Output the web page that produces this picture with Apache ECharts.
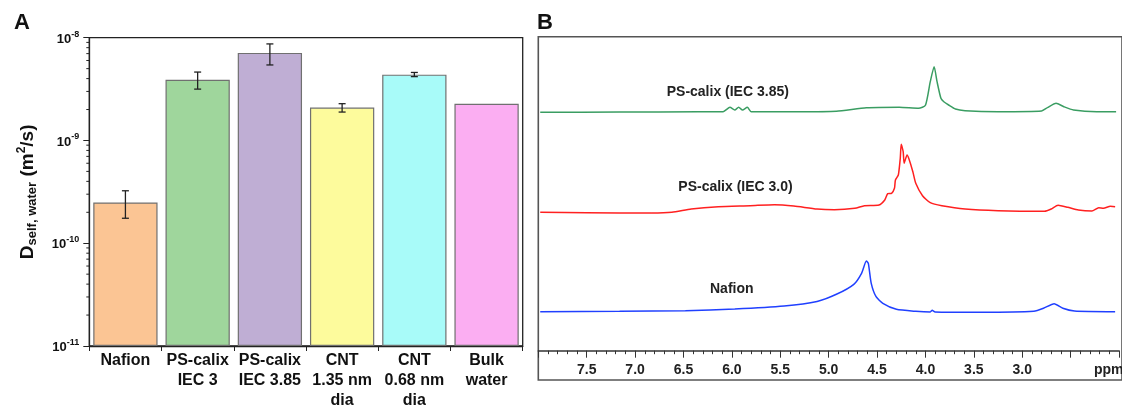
<!DOCTYPE html>
<html>
<head>
<meta charset="utf-8">
<script src="https://cdn.jsdelivr.net/npm/echarts@6/dist/echarts.min.js"></script>
<style>
  html, body { margin: 0; padding: 0; background: #fff; }
  #chart { width: 1122px; height: 411px; }
</style>
</head>
<body>
<div id="chart"></div>
<script>
// A: water self-diffusion coefficients
const categories = ['Nafion', 'PS-calix\nIEC 3', 'PS-calix\nIEC 3.85', 'CNT\n1.35 nm\ndia', 'CNT\n0.68 nm\ndia', 'Bulk\nwater']
const diffusion = [2.49e-10, 3.89e-9, 7.11e-9, 2.09e-9, 4.37e-9, 2.28e-9]
const errLow = [1.75e-10, 3.16e-9, 5.43e-9, 1.89e-9, 4.18e-9, null]
const errHigh = [3.24e-10, 4.63e-9, 8.7e-9, 2.28e-9, 4.59e-9, null]
const minorSteps = [2, 3, 4, 5, 6, 7, 8, 9]
const decades = [1e-11, 1e-10, 1e-9]

// B: 1H NMR spectra, [ppm, intensity above baseline]
const specIEC385 = [
  [7.98, 0], [7.16, 0.3], [6.35, 0.5], [6.09, 0.6], [6.02, 5], [5.97, 2.3], [5.93, 5], [5.89, 2.3],
  [5.84, 5], [5.80, 0.6], [5.32, 0.5], [4.92, 1.0], [4.61, 4.5], [4.27, 5], [4.07, 4], [4.00, 7],
  [3.95, 30.6], [3.91, 45.6], [3.88, 30.6], [3.84, 14], [3.81, 10.6], [3.76, 7.3], [3.69, 3.3],
  [3.59, 1.6], [3.25, 0.6], [2.80, 1.3], [2.74, 4.6], [2.65, 9], [2.57, 5.6], [2.47, 2.3],
  [2.23, 0.6], [2.03, 0.6]
]
const specIEC30 = [
  [7.98, 0], [7.50, -0.4], [6.83, -0.7], [6.62, 0], [6.42, 3.3], [6.14, 5.6], [5.81, 6.6], [5.56, 7.6],
  [5.36, 6.3], [5.12, 3.3], [4.94, 2.6], [4.73, 4], [4.63, 6.6], [4.48, 7.3], [4.42, 12.3], [4.39, 18.6],
  [4.35, 19], [4.32, 24], [4.31, 32.3], [4.28, 37.3], [4.26, 54], [4.25, 68], [4.23, 60.6], [4.22, 49],
  [4.19, 57.3], [4.17, 53.3], [4.13, 40.6], [4.10, 29], [4.03, 16.6], [3.95, 9.6], [3.83, 6.6],
  [3.59, 3.3], [3.25, 1.6], [2.77, 1], [2.70, 3.3], [2.63, 7], [2.53, 5], [2.42, 2.3], [2.28, 1.3],
  [2.21, 4.6], [2.16, 4], [2.09, 6], [2.04, 5.6]
]
const specNafion = [
  [7.98, 0], [7.16, 0.4], [6.48, 1], [5.97, 2.7], [5.46, 5.7], [5.12, 10.3], [4.92, 17.4], [4.74, 27.4],
  [4.66, 38.4], [4.61, 50.7], [4.59, 48.4], [4.56, 28.4], [4.51, 15], [4.44, 8.4], [4.30, 2.4],
  [4.10, 0.4], [3.95, -0.3], [3.93, 1.4], [3.90, -0.3], [3.42, -0.6], [2.88, 0.4], [2.78, 3.4],
  [2.67, 8], [2.58, 3.4], [2.46, 0.7], [2.04, 0]
]

// 样式
const FONT = 'Arial, "Liberation Sans", sans-serif'
const barColors = ['#fbc594', '#9fd69c', '#bfaed4', '#fdfb9c', '#a8fbf9', '#fbaef2']
const specColors = { iec385: '#3a9d62', iec30: '#ff2020', nafion: '#2040ff' }
const specOffsets = { iec385: 238.4, iec30: 138.4, nafion: 39 }

const minorTicks = []
decades.forEach(d => minorSteps.forEach(m => minorTicks.push([0, m * d])))

const errData = []
categories.forEach((c, i) => { if (errLow[i] != null) errData.push([i, errLow[i], errHigh[i]]) })

const shift = (spec, off) => spec.map(p => [p[0], p[1] + off])

const chart = echarts.init(document.getElementById('chart'), null, { renderer: 'canvas' })

const option = {
  backgroundColor: '#fff',
  animation: false,
  textStyle: { fontFamily: FONT },
  grid: [
    { left: 89.3, right: 599.3, top: 37.7, bottom: 59.5, show: true, borderColor: '#222', borderWidth: 1.3 },
    { left: 538.3, right: -3.2, top: 36.7, bottom: 60.3 },
    { left: 538.3, right: -10, top: 36.7, bottom: 31, show: true, borderColor: '#555', borderWidth: 1.6 }
  ],
  xAxis: [
    {
      type: 'category',
      gridIndex: 0,
      data: categories,
      axisLine: { lineStyle: { color: '#222', width: 1.3 } },
      axisTick: { show: true, length: 5, lineStyle: { color: '#222' } },
      axisLabel: {
        color: '#111', fontWeight: 'bold', fontSize: 16, lineHeight: 20, margin: 5, interval: 0, fontFamily: FONT
      }
    },
    {
      type: 'value',
      gridIndex: 1,
      inverse: true,
      min: 2.0,
      max: 8.0,
      interval: 0.5,
      splitLine: { show: false },
      axisLine: { lineStyle: { color: '#333', width: 1.5 } },
      axisTick: { length: 7, lineStyle: { color: '#333' } },
      minorTick: { show: true, splitNumber: 5, length: 3.5, lineStyle: { color: '#333' } },
      axisLabel: {
        color: '#222', fontWeight: 'bold', fontSize: 14, margin: 12, fontFamily: FONT,
        formatter: v => (v >= 2.9 && v <= 7.9 ? v.toFixed(1) : '')
      }
    },
    { type: 'value', gridIndex: 2, show: false, min: 0, max: 1 }
  ],
  yAxis: [
    {
      type: 'log',
      gridIndex: 0,
      logBase: 10,
      min: 1e-11,
      max: 1e-8,
      startValue: 1e-11,
      splitLine: { show: false },
      axisLine: { show: true, lineStyle: { color: '#222', width: 1.3 } },
      axisTick: { show: true, length: 6, lineStyle: { color: '#222' } },
      axisLabel: {
        margin: 10,
        formatter: v => '{b|10}{s|' + Math.round(Math.log10(v)) + '}',
        rich: {
          b: { fontSize: 13, fontWeight: 'bold', color: '#111', fontFamily: FONT, lineHeight: 16, verticalAlign: 'bottom' },
          s: { fontSize: 9, fontWeight: 'bold', color: '#111', fontFamily: FONT, lineHeight: 16, verticalAlign: 'top' }
        }
      },
      name: '{d|D}{sub|self, water}{d| (m}{sup|2}{d|/s)}',
      nameLocation: 'middle',
      nameRotate: 90,
      nameGap: 50,
      nameTextStyle: {
        rich: {
          d: { fontSize: 19, fontWeight: 'bold', color: '#111', fontFamily: FONT, lineHeight: 24, verticalAlign: 'middle' },
          sub: { fontSize: 13, fontWeight: 'bold', color: '#111', fontFamily: FONT, lineHeight: 24, verticalAlign: 'bottom' },
          sup: { fontSize: 12, fontWeight: 'bold', color: '#111', fontFamily: FONT, lineHeight: 24, verticalAlign: 'top' }
        }
      }
    },
    { type: 'value', gridIndex: 1, show: false, min: 0, max: 314 },
    { type: 'value', gridIndex: 2, show: false, min: 0, max: 1 }
  ],
  graphic: [
    { type: 'text', x: 14, y: 12, style: { text: 'A', font: 'bold 22px ' + FONT, fill: '#111' } },
    { type: 'text', x: 537, y: 12, style: { text: 'B', font: 'bold 22px ' + FONT, fill: '#111' } },
    { type: 'text', x: 666.7, y: 91.7, style: { text: 'PS-calix (IEC 3.85)', font: 'bold 14px ' + FONT, fill: '#222', verticalAlign: 'middle' } },
    { type: 'text', x: 678.3, y: 186.7, style: { text: 'PS-calix (IEC 3.0)', font: 'bold 14px ' + FONT, fill: '#222', verticalAlign: 'middle' } },
    { type: 'text', x: 710, y: 289.3, style: { text: 'Nafion', font: 'bold 14px ' + FONT, fill: '#222', verticalAlign: 'middle' } },
    { type: 'text', x: 1094, y: 370, style: { text: 'ppm', font: 'bold 14px ' + FONT, fill: '#222', verticalAlign: 'middle' } }
  ],
  series: [
    {
      type: 'bar',
      xAxisIndex: 0,
      yAxisIndex: 0,
      barCategoryGap: '11%',
      data: diffusion.map((v, i) => ({ value: v, itemStyle: { color: barColors[i] } })),
      itemStyle: { borderColor: '#707070', borderWidth: 1.2 }
    },
    {
      type: 'custom',
      xAxisIndex: 0,
      yAxisIndex: 0,
      silent: true,
      z: 5,
      data: errData,
      renderItem: (params, api) => {
        const lo = api.coord([api.value(0), api.value(1)])
        const hi = api.coord([api.value(0), api.value(2)])
        const w = 3.5
        const st = { stroke: '#222', lineWidth: 1.3 }
        return {
          type: 'group',
          children: [
            { type: 'line', shape: { x1: lo[0], y1: lo[1], x2: hi[0], y2: hi[1] }, style: st },
            { type: 'line', shape: { x1: lo[0] - w, y1: lo[1], x2: lo[0] + w, y2: lo[1] }, style: st },
            { type: 'line', shape: { x1: hi[0] - w, y1: hi[1], x2: hi[0] + w, y2: hi[1] }, style: st }
          ]
        }
      }
    },
    {
      // 对数轴的次刻度
      type: 'custom',
      xAxisIndex: 0,
      yAxisIndex: 0,
      silent: true,
      data: minorTicks,
      renderItem: (params, api) => {
        const p = api.coord([0, api.value(1)])
        const x0 = p[0] - api.size([1, 0])[0] / 2
        return { type: 'line', shape: { x1: x0 - 3, y1: p[1], x2: x0, y2: p[1] }, style: { stroke: '#222', lineWidth: 1 } }
      }
    },
    {
      name: 'PS-calix (IEC 3.85)',
      type: 'line',
      xAxisIndex: 1,
      yAxisIndex: 1,
      showSymbol: false,
      smooth: 0.2,
      lineStyle: { color: specColors.iec385, width: 1.5 },
      data: shift(specIEC385, specOffsets.iec385)
    },
    {
      name: 'PS-calix (IEC 3.0)',
      type: 'line',
      xAxisIndex: 1,
      yAxisIndex: 1,
      showSymbol: false,
      smooth: 0.2,
      lineStyle: { color: specColors.iec30, width: 1.5 },
      data: shift(specIEC30, specOffsets.iec30)
    },
    {
      name: 'Nafion',
      type: 'line',
      xAxisIndex: 1,
      yAxisIndex: 1,
      showSymbol: false,
      smooth: 0.2,
      lineStyle: { color: specColors.nafion, width: 1.5 },
      data: shift(specNafion, specOffsets.nafion)
    }
  ]
}

chart.setOption(option)
</script>
</body>
</html>
